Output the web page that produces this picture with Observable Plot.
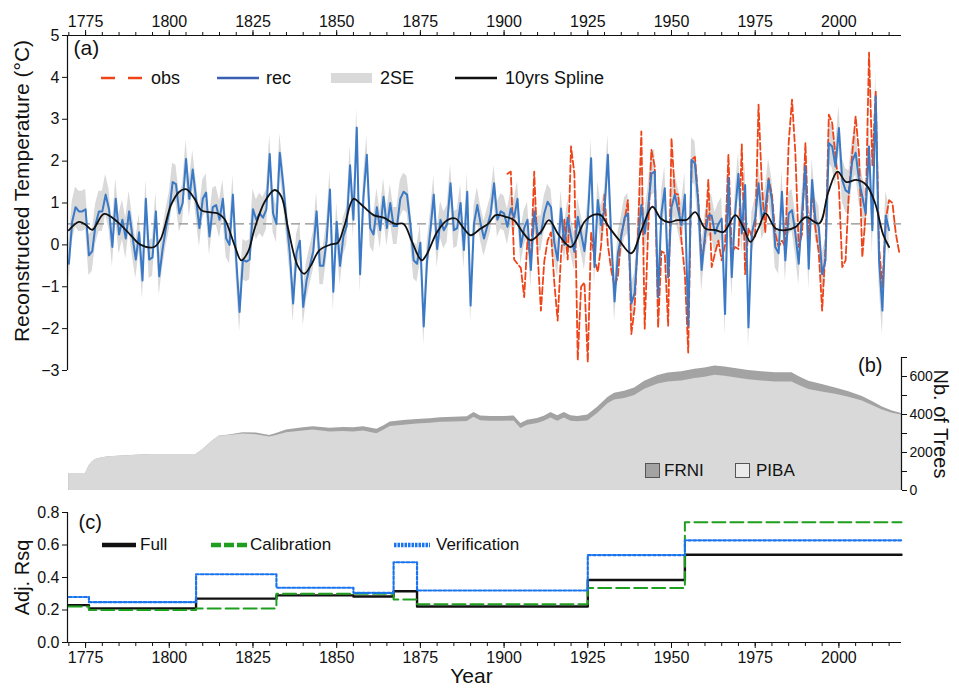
<!DOCTYPE html>
<html><head><meta charset="utf-8">
<script src="https://cdn.jsdelivr.net/npm/d3@7"></script>
<script src="https://cdn.jsdelivr.net/npm/@observablehq/plot@0.6"></script>
<style>
body{margin:0;background:#fff;font-family:"Liberation Sans",Arial,sans-serif;}
#wrap{position:relative;width:959px;height:691px;overflow:hidden;background:#fff;}
#wrap svg.pl{position:absolute;left:0;}
.t{position:absolute;font-size:18px;line-height:22px;color:#111;white-space:nowrap;}
.sw{position:absolute;}
</style></head><body><div id="wrap"></div><script>
// ---------------- data ----------------
const xDomain = [1769.6, 2018.7];
const majorTicks = [1775, 1800, 1825, 1850, 1875, 1900, 1925, 1950, 1975, 2000];
const minorTicks = d3.range(1770, 2019, 5);

// (a) reconstruction 1770-2015
const recStart = 1770;
const recValues = [
 -0.45, 0.55, 0.9, 0.8, 0.8, 0.85, -0.25, -0.15, 0.5, 0.8,
 0.8, 1.2, 0.85, -0.05, 1.1, 0.25, 0.6, 0.15, 0.8, 0.2,
 -0.35, 0.3, -0.85, 1.1, -0.35, -0.3, 0.8, -0.75, -0.1, 0.4,
 0.8, 1.5, 1.45, 0.75, 1.0, 2.05, 1.1, 1.8, 1.1, 0.4,
 1.1, 1.25, 0.2, 0.9, 0.95, 0.6, 1.1, 0.15, 0.0, 1.2,
 -0.35, -1.6, -0.35, -0.4, -0.35, 0.85, 0.6, 0.75, 0.65, 0.85,
 2.17, 0.75, 0.5, 2.2, 1.47, 0.6, -0.2, -1.4, -0.2, 0.1,
 -1.48, -0.85, -0.5, -0.15, 0.8, -0.5, -0.5, 0.1, 1.32, -1.12,
 0.55, -0.5, 0.2, 0.45, 1.9, 0.6, 2.8, -0.7, 1.15, 2.15,
 0.4, 0.25, 0.9, 0.35, 1.15, 0.4, 1.0, 0.45, 0.45, 1.1,
 1.27, 1.2, 0.5, -0.37, -0.45, 0.05, -1.95, -0.37, 0.35, 1.2,
 -0.1, 0.6, 0.35, 0.5, 1.47, 0.35, 0.4, 1.0, -0.12, 1.27,
 -1.45, 0.5, 0.95, 0.5, 0.15, 0.45, 0.75, 1.47, 0.6, 0.8,
 0.75, 0.43, 0.87, 0.65, 1.1, -0.05, 0.4, 0.6, -0.6, 0.8,
 0.27, 0.27, 0.75, 1.03, 0.9, 0.05, -0.37, 0.87, 0.0, 0.65,
 0.2, -0.17, 0.67, 0.27, -0.15, 0.6, 2.07, -0.53, 1.07, 0.47,
 0.83, 2.15, 0.2, -1.35, -0.2, 0.2, 0.65, 0.75, -1.4, -1.15,
 0.1, 0.95, 0.27, 0.87, 1.7, 1.75, -1.25, 0.75, 1.35, -0.77,
 0.9, 1.2, 0.83, 0.47, 1.2, -1.93, 2.03, 1.95, 1.0, -0.6,
 0.23, 0.7, 0.7, 0.27, 0.5, 0.63, -1.65, 1.6, -0.77, 0.75,
 1.7, 0.27, 1.43, -1.97, 0.27, 0.63, 1.47, 0.63, 0.83, 1.55,
 1.07, -0.05, -0.2, 1.27, -0.37, 0.75, 0.83, 0.27, -0.45, 0.75,
 1.87, -0.57, 1.55, 0.6, 0.43, -0.7, -0.37, 2.43, 2.35, 1.87,
 2.79, 1.55, 1.3, 1.25, 2.0, 2.2, 1.55, 1.15, 0.75, 2.35,
 0.35, 3.55, -0.37, -1.57, 0.7, 0.35
];
// 2 standard errors (half-width) per decade, 1770s ... 2010s
const se2 = [0.48,0.48,0.45,0.45,0.45,0.48,0.45,0.45,0.45,0.44,0.44,0.44,0.42,0.42,0.42,0.45,0.48,0.52,0.52,0.5,0.5,0.5,0.5,0.52,0.58];

// (a) observations 1901-2018
const obsStart = 1901;
const obsValues = [
 1.7, 1.75, -0.35, -0.45, -0.55, -1.25, 0.15, -0.4, 1.75, -0.2,
 -1.57, -0.4, 0.1, 0.3, -0.9, -1.81, -0.25, 0.6, -0.35, 2.35,
 1.7, -2.75, -1.0, -0.9, -2.8, 0.3, -0.35, -0.65, 0.0, 1.2,
 0.0, -0.6, -1.0, -0.75, 0.25, 0.6, 1.07, -2.13, -1.5, 0.3,
 2.71, -2.0, 0.3, 2.27, 1.87, -1.97, -0.15, -0.2, -1.93, 2.55,
 1.23, 1.2, 0.1, -0.7, -2.57, 2.03, 2.1, 1.1, -0.37, 0.1,
 1.55, -0.53, -0.2, 0.1, -0.37, 0.0, 2.15, -0.2, -0.05, -0.1,
 2.4, -0.7, 0.4, 0.2, 0.2, 3.35, 1.4, 0.3, 1.59, 1.2,
 0.27, -0.05, 0.1, -0.05, 2.43, 3.47, 2.19, -0.05, 0.27, 2.43,
 0.1, 1.3, 0.4, -0.2, -1.57, -0.05, 3.11, 2.91, 2.1, 1.4,
 -0.53, -0.37, 1.3, 2.19, 3.07, 2.19, -0.29, 0.75, 4.59, 1.9,
 3.67, -0.05, -1.01, 0.6, 1.07, 1.0, 0.27, -0.17
];

// (a) 10-year spline
const splineYears = [1770,1773,1775,1777,1780.5,1784.5,1788.5,1791.5,1795.5,1797.5,1800.5,1803,1805,1807.5,1809.5,1812,1814.5,1816.5,1819.5,1821.5,1823.5,1825.5,1828.5,1831.5,1833.5,1835.5,1838.3,1840.3,1842.3,1844.8,1848.3,1850.3,1852.3,1855,1857,1861,1864,1867.5,1870,1872.5,1875.4,1877,1880,1883,1885.5,1888,1890,1893,1895.2,1897.5,1900.5,1903,1905.5,1908,1911,1913.4,1916.4,1920,1924,1926.9,1928.9,1931.3,1934.3,1938,1941.2,1944.3,1946.8,1949.2,1951.7,1954.6,1957.1,1960.1,1963.1,1965.6,1969.1,1971.6,1973.6,1976,1978.1,1981.1,1984.1,1987.1,1990.1,1994.1,1996.8,1999.6,2002.2,2005.2,2008.2,2010.8,2013.2,2015];
const splineValues = [0.35,0.55,0.48,0.36,0.74,0.55,0.23,0.0,-0.05,0.15,0.95,1.27,1.33,1.11,0.83,0.78,0.75,0.62,-0.01,-0.37,-0.17,0.39,1.03,1.31,1.15,0.39,-0.49,-0.69,-0.49,-0.13,0.01,0.05,0.45,1.1,0.99,0.71,0.65,0.5,0.5,0.07,-0.37,-0.21,0.31,0.59,0.63,0.39,0.23,0.39,0.5,0.71,0.67,0.59,0.31,0.11,0.31,0.59,0.23,-0.05,0.55,0.72,0.71,0.43,0.12,-0.2,0.39,0.91,0.63,0.54,0.59,0.6,0.78,0.39,0.35,0.31,0.71,0.39,0.07,0.4,0.75,0.39,0.35,0.43,0.66,0.51,1.25,1.75,1.5,1.55,1.43,1.0,0.25,-0.05];
const meanLine = [0.5];
const yTicksA = [-3,-2,-1,0,1,2,3,4,5];

// (b) number of trees
const treeYears = [1770,1775,1776,1777,1778,1780,1782,1786,1790,1795,
 1808,1810,1813,1815,1818,1822,1826,1830,1832,1835,
 1840,1843,1848,1852,1855,1858,1862,1864,1866,1870,
 1874,1878,1881,1885,1889,1891,1893,1896,1900,1903,
 1905,1907,1910,1912,1914,1916,1918,1920,1922,1925,
 1928,1931,1933,1936,1939,1942,1946,1949,1953,1957,
 1960,1963,1966,1969,1973,1977,1981,1986,1988,1991,
 1995,1999,2003,2007,2010,2013,2016,2018.7];
const pibaTrees = [90,90,128,150,163,173,178,182,186,190,
 190,215,262,287,290,298,294,281,289,304,
 313,318,308,311,308,313,299,317,337,344,
 350,354,359,360,363,385,367,364,364,366,
 326,344,352,364,382,365,382,365,362,366,
 406,456,476,484,500,533,560,571,576,589,
 596,606,601,593,583,576,571,571,554,532,
 518,506,491,471,447,424,407,398];
const frniTrees = [0,0,0,0,0,0,0,0,0,0,
 0,0,0,0,2,6,8,9,11,14,
 17,18,20,21,22,22,23,23,23,24,
 24,24,24,25,25,25,25,26,26,26,
 26,26,27,27,28,28,28,28,28,32,
 34,34,36,38,40,42,45,47,49,49,
 49,49,49,49,49,49,49,49,46,43,
 40,34,29,24,21,16,11,7];
const treeTicks = [0,100,200,300,400,500,600,700];

// (c) adjusted R-squared, nested models
const rsqYears = [1770, 1776, 1808, 1832, 1855, 1867, 1874, 1925, 1954, 2018.7];
const rsqFull  = [0.23, 0.21, 0.27, 0.29, 0.283, 0.315, 0.222, 0.385, 0.54, 0.54];
const rsqCalib = [0.222, 0.2, 0.21, 0.30, 0.30, 0.265, 0.235, 0.335, 0.74, 0.74];
const rsqVerif = [0.28, 0.248, 0.42, 0.337, 0.306, 0.494, 0.32, 0.538, 0.629, 0.629];
const yTicksC = [0, 0.2, 0.4, 0.6, 0.8];

// ---------------- tables ----------------
const recTable = recValues.map((v, i) => {
  const year = recStart + i;
  const s = se2[Math.floor((year - 1770) / 10)];
  return {year, v, lo: v - s, hi: v + s};
});
const obsTable = obsValues.map((v, i) => ({year: obsStart + i, v}));
const splineTable = splineYears.map((year, i) => ({year, v: splineValues[i]}));
const treeTable = treeYears.map((year, i) => ({year, piba: pibaTrees[i], total: pibaTrees[i] + frniTrees[i]}));
const rsqTable = rsqYears.map((year, i) => ({year, full: rsqFull[i], calib: rsqCalib[i], verif: rsqVerif[i]}));

const FONT = "Liberation Sans, Arial, sans-serif";
const baseStyle = {background: "transparent", fontFamily: FONT, fontSize: "16px", color: "#111", overflow: "visible"};
const wrap = document.getElementById("wrap");
function place(svg, top) { svg.classList.add("pl"); svg.style.top = top + "px"; wrap.appendChild(svg); }

// ---------------- panel (b) ----------------
const plotB = Plot.plot({
  width: 959, height: 142, marginLeft: 67, marginRight: 58, marginTop: 7, marginBottom: 2,
  style: baseStyle,
  x: {domain: xDomain, axis: null},
  y: {domain: [0, 700], axis: null},
  marks: [
    Plot.areaY(treeTable, {x: "year", y: "total", fill: "#a3a3a3"}),
    Plot.areaY(treeTable, {x: "year", y: "piba", fill: "#d9d9d9"}),
    Plot.ruleX([xDomain[1]], {stroke: "#111", strokeWidth: 1.2}),
    Plot.axisY({anchor: "right", ticks: treeTicks, tickSize: 5, tickPadding: 3, fontSize: 14, label: null,
      tickFormat: d => (d % 200 === 0 && d < 700) ? String(d) : ""}),
    Plot.text(["Nb. of Trees"], {frameAnchor: "right", rotate: 90, dx: 39, textAnchor: "middle", lineAnchor: "middle", fontSize: 20}),
    Plot.text(["(b)"], {frameAnchor: "top-right", dx: -19, dy: 0, textAnchor: "end", lineAnchor: "top", fontSize: 20})
  ]
});
place(plotB, 350);

// ---------------- panel (a) ----------------
const plotA = Plot.plot({
  width: 959, height: 375, marginLeft: 67, marginRight: 58, marginTop: 35, marginBottom: 5,
  style: baseStyle,
  x: {domain: xDomain},
  y: {domain: [-3, 5]},
  marks: [
    Plot.areaY(recTable, {x: "year", y1: "lo", y2: "hi", fill: "#d9d9d9"}),
    Plot.ruleY(meanLine, {stroke: "#8c8c8c", strokeWidth: 1.3, strokeDasharray: "9,5"}),
    Plot.lineY(obsTable, {x: "year", y: "v", stroke: "#ef4418", strokeWidth: 1.8, strokeDasharray: "7,3"}),
    Plot.lineY(recTable, {x: "year", y: "v", stroke: "#3a79c6", strokeWidth: 2}),
    Plot.lineY(splineTable, {x: "year", y: "v", stroke: "#111", strokeWidth: 1.8, curve: "catmull-rom"}),
    Plot.ruleY([5], {stroke: "#111", strokeWidth: 1.2}),
    Plot.ruleX([xDomain[0]], {stroke: "#111", strokeWidth: 1.2}),
    Plot.axisX({anchor: "top", ticks: minorTicks, tickSize: 4, tickFormat: () => "", label: null}),
    Plot.axisX({anchor: "top", ticks: majorTicks, tickSize: 6, tickPadding: 3, fontSize: 16, tickFormat: d => String(d), label: null}),
    Plot.axisY({anchor: "left", ticks: yTicksA, tickSize: 5, tickPadding: 3, fontSize: 16, label: null}),
    Plot.text(["Reconstructed Temperature (°C)"], {frameAnchor: "left", rotate: -90, dx: -45, dy: -12, textAnchor: "middle", lineAnchor: "middle", fontSize: 21}),
    Plot.text(["(a)"], {frameAnchor: "top-left", dx: 6, dy: 5, textAnchor: "start", lineAnchor: "top", fontSize: 21})
  ]
});
place(plotA, 0);

// ---------------- panel (c) ----------------
const plotC = Plot.plot({
  width: 959, height: 196, marginLeft: 67, marginRight: 58, marginTop: 17, marginBottom: 49,
  style: baseStyle,
  x: {domain: xDomain},
  y: {domain: [0, 0.8]},
  marks: [
    Plot.lineY(rsqTable, {x: "year", y: "full", stroke: "#111", strokeWidth: 2.4, curve: "step-after"}),
    Plot.lineY(rsqTable, {x: "year", y: "calib", stroke: "#1f9e1f", strokeWidth: 2, strokeDasharray: "13,5", curve: "step-after"}),
    Plot.lineY(rsqTable, {x: "year", y: "verif", stroke: "#1b74ef", strokeWidth: 2.2, strokeDasharray: "3,2", curve: "step-after"}),
    Plot.ruleY([0], {stroke: "#111", strokeWidth: 1.2}),
    Plot.ruleX([xDomain[0]], {stroke: "#111", strokeWidth: 1.2}),
    Plot.axisX({anchor: "bottom", ticks: minorTicks, tickSize: 4, tickFormat: () => "", label: null}),
    Plot.axisX({anchor: "bottom", ticks: majorTicks, tickSize: 6, tickPadding: 3, fontSize: 16, tickFormat: d => String(d), label: null}),
    Plot.axisY({anchor: "left", ticks: yTicksC, tickSize: 5, tickPadding: 3, fontSize: 16, tickFormat: d3.format(".1f"), label: null}),
    Plot.text(["Adj. Rsq"], {frameAnchor: "left", rotate: -90, dx: -45, textAnchor: "middle", lineAnchor: "middle", fontSize: 20}),
    Plot.text(["Year"], {frameAnchor: "bottom", dx: -13, dy: 34, textAnchor: "middle", lineAnchor: "middle", fontSize: 21}),
    Plot.text(["(c)"], {frameAnchor: "top-left", dx: 11, dy: 2, textAnchor: "start", lineAnchor: "top", fontSize: 20})
  ]
});
place(plotC, 495);

// ---------------- legends (decoration) ----------------
const L = [];
function sw(left, top, w, h, inner) { L.push(`<svg class="sw" style="left:${left}px;top:${top}px" width="${w}" height="${h}">${inner}</svg>`); }
function tx(left, top, s, fs) { L.push(`<div class="t" style="left:${left}px;top:${top}px;font-size:${fs||18}px">${s}</div>`); }
// (a)
sw(99, 70, 46, 16, `<line x1="2" y1="8" x2="43" y2="8" stroke="#ef4418" stroke-width="2.4" stroke-dasharray="14,13"/>`);
tx(151, 67, "obs");
sw(215, 70, 46, 16, `<line x1="2" y1="8" x2="44" y2="8" stroke="#3a5fb0" stroke-width="2.6"/>`);
tx(266, 67, "rec");
sw(330, 70, 44, 16, `<rect x="1" y="3" width="41" height="10" fill="#d9d9d9"/>`);
tx(380, 67, "2SE");
sw(454, 70, 46, 16, `<line x1="1" y1="8" x2="43" y2="8" stroke="#111" stroke-width="2.4"/>`);
tx(505, 67, "10yrs Spline");
// (b)
sw(644, 462, 18, 18, `<rect x="1.5" y="1.5" width="14" height="14" fill="#a3a3a3" stroke="#555" stroke-width="1"/>`);
tx(664, 460, "FRNI", 17);
sw(734, 462, 18, 18, `<rect x="1.5" y="1.5" width="14" height="14" fill="#ebebeb" stroke="#555" stroke-width="1"/>`);
tx(756, 460, "PIBA", 17);
// (c)
sw(101, 537, 38, 16, `<line x1="1" y1="8" x2="35" y2="8" stroke="#111" stroke-width="4.5"/>`);
tx(140, 534, "Full", 17);
sw(210, 537, 40, 16, `<line x1="1" y1="8" x2="37" y2="8" stroke="#1f9e1f" stroke-width="4.5" stroke-dasharray="10,3"/>`);
tx(250, 534, "Calibration", 17);
sw(393, 537, 40, 16, `<line x1="1" y1="8" x2="37" y2="8" stroke="#1b74ef" stroke-width="4.5" stroke-dasharray="2.5,1"/>`);
tx(436, 534, "Verification", 17);
wrap.insertAdjacentHTML("beforeend", L.join(""));
</script></body></html>
